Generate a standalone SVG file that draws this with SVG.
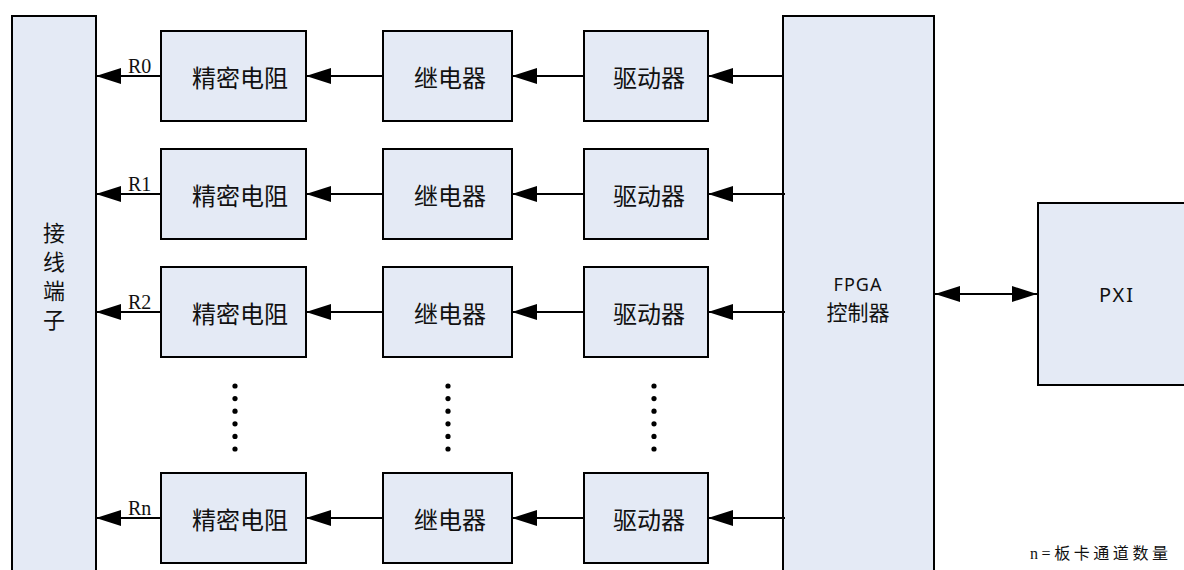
<svg xmlns="http://www.w3.org/2000/svg" width="1184" height="570" viewBox="0 0 1184 570">
<style>
.box{fill:#e4eaf5;stroke:#000;stroke-width:2}
.cn{font-family:"Noto Sans CJK SC",sans-serif;font-size:24px;fill:#111;text-anchor:middle;dominant-baseline:central}
.sans{font-family:"Noto Sans","Noto Sans CJK SC",sans-serif;font-size:20px;fill:#111;text-anchor:middle;dominant-baseline:central}
.lbl{font-family:"Liberation Serif",serif;font-size:20px;fill:#111}
.ln{stroke:#000;stroke-width:2;fill:none;marker-end:url(#ah)}
.dot{fill:#000}
</style>
<defs>
<marker id="ah" viewBox="0 0 25 16" refX="25" refY="8" markerWidth="25" markerHeight="16" markerUnits="userSpaceOnUse" orient="auto-start-reverse">
<path d="M0,0 L25,8 L0,16 z" fill="#000"/>
</marker>
</defs>
<rect width="1184" height="570" fill="#fff"/>

<g id="terminal">
<rect class="box" x="12" y="16" width="84" height="570"/>
<text class="cn" x="54" y="231" style="font-size:22px">接</text>
<text class="cn" x="54" y="260" style="font-size:22px">线</text>
<text class="cn" x="54" y="289" style="font-size:22px">端</text>
<text class="cn" x="54" y="318" style="font-size:22px">子</text>
</g>

<g id="fpga">
<rect class="box" x="783" y="16" width="151" height="570"/>
<text class="sans" x="858" y="284" style="font-size:18px;letter-spacing:1px">FPGA</text>
<text class="cn" x="858" y="311" style="font-size:21px">控制器</text>
</g>

<g id="pxi">
<rect class="box" x="1038" y="203" width="160" height="182"/>
<text class="sans" x="1117" y="294" style="letter-spacing:2px">PXI</text>
</g>

<g id="row0">
<rect class="box" x="161" y="31" width="145" height="90"/>
<text class="cn" x="240" y="76">精密电阻</text>
<rect class="box" x="383" y="31" width="129" height="90"/>
<text class="cn" x="450" y="76">继电器</text>
<rect class="box" x="584" y="31" width="124" height="90"/>
<text class="cn" x="649" y="76">驱动器</text>
</g>
<g id="row1">
<rect class="box" x="161" y="149" width="145" height="90"/>
<text class="cn" x="240" y="194">精密电阻</text>
<rect class="box" x="383" y="149" width="129" height="90"/>
<text class="cn" x="450" y="194">继电器</text>
<rect class="box" x="584" y="149" width="124" height="90"/>
<text class="cn" x="649" y="194">驱动器</text>
</g>
<g id="row2">
<rect class="box" x="161" y="267" width="145" height="90"/>
<text class="cn" x="240" y="312">精密电阻</text>
<rect class="box" x="383" y="267" width="129" height="90"/>
<text class="cn" x="450" y="312">继电器</text>
<rect class="box" x="584" y="267" width="124" height="90"/>
<text class="cn" x="649" y="312">驱动器</text>
</g>
<g id="rown">
<rect class="box" x="161" y="473" width="145" height="90"/>
<text class="cn" x="240" y="518">精密电阻</text>
<rect class="box" x="383" y="473" width="129" height="90"/>
<text class="cn" x="450" y="518">继电器</text>
<rect class="box" x="584" y="473" width="124" height="90"/>
<text class="cn" x="649" y="518">驱动器</text>
</g>

<g id="ellipsis">
<g class="dot">
<circle cx="235" cy="386" r="2.6"/><circle cx="235" cy="398.6" r="2.6"/><circle cx="235" cy="411.2" r="2.6"/><circle cx="235" cy="423.8" r="2.6"/><circle cx="235" cy="436.4" r="2.6"/><circle cx="235" cy="449" r="2.6"/>
<circle cx="448" cy="386" r="2.6"/><circle cx="448" cy="398.6" r="2.6"/><circle cx="448" cy="411.2" r="2.6"/><circle cx="448" cy="423.8" r="2.6"/><circle cx="448" cy="436.4" r="2.6"/><circle cx="448" cy="449" r="2.6"/>
<circle cx="654" cy="386" r="2.6"/><circle cx="654" cy="398.6" r="2.6"/><circle cx="654" cy="411.2" r="2.6"/><circle cx="654" cy="423.8" r="2.6"/><circle cx="654" cy="436.4" r="2.6"/><circle cx="654" cy="449" r="2.6"/>
</g>
</g>

<g id="connectors">
<path class="ln" d="M783,76 H708"/>
<path class="ln" d="M584,76 H512"/>
<path class="ln" d="M383,76 H306"/>
<path class="ln" d="M161,76 H96"/>
<path class="ln" d="M785,194 H708"/>
<path class="ln" d="M584,194 H512"/>
<path class="ln" d="M383,194 H306"/>
<path class="ln" d="M161,194 H96"/>
<path class="ln" d="M785,312 H708"/>
<path class="ln" d="M584,312 H512"/>
<path class="ln" d="M383,312 H306"/>
<path class="ln" d="M161,312 H96"/>
<path class="ln" d="M785,518 H708"/>
<path class="ln" d="M584,518 H512"/>
<path class="ln" d="M383,518 H306"/>
<path class="ln" d="M161,518 H96"/>
<path class="ln" d="M935,294 H1037" style="marker-start:url(#ah)"/>
<text class="lbl" x="128" y="73">R0</text>
<text class="lbl" x="128" y="191">R1</text>
<text class="lbl" x="128" y="309">R2</text>
<text class="lbl" x="128" y="515">Rn</text>
</g>

<text x="1030" y="559" style="font-family:'Liberation Serif','Noto Sans CJK SC',serif;font-size:16px;fill:#111" textLength="138" lengthAdjust="spacing">n=板卡通道数量</text>
</svg>
